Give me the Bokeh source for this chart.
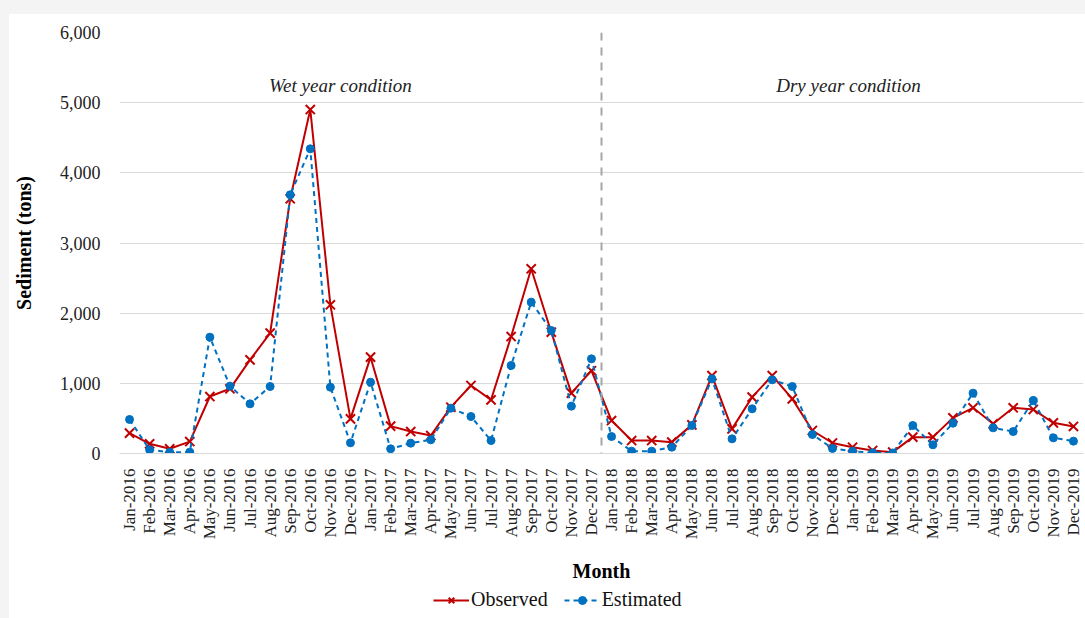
import math
from bokeh.plotting import figure
from bokeh.layouts import column
from bokeh.models import ColumnDataSource, FactorRange, Range1d, NumeralTickFormatter, SingleIntervalTicker, Span, Label, Legend, LegendItem
from bokeh.embed import file_html
from bokeh.resources import INLINE

month_names = ["Jan", "Feb", "Mar", "Apr", "May", "Jun", "Jul", "Aug", "Sep", "Oct", "Nov", "Dec"]
years = ["2016", "2017", "2018", "2019"]
months = [f"{m}-{y}" for y in years for m in month_names]

observed = [290, 138, 67, 170, 812, 922, 1335, 1715, 3630, 4902, 2119, 494,
            1373, 390, 313, 256, 660, 969, 765, 1667, 2632, 1729, 860, 1180,
            470, 185, 185, 162, 408, 1111, 351, 803, 1111, 779, 328, 150,
            90, 43, 19, 233, 233, 508, 651, 423, 651, 627, 437, 385]
estimated = [485, 52, 19, 19, 1658, 960, 708, 955, 3687, 4342, 945, 152,
             1016, 67, 147, 195, 646, 527, 185, 1254, 2157, 1753, 675, 1349,
             242, 33, 33, 90, 399, 1064, 209, 637, 1050, 955, 271, 72,
             33, 10, 8, 399, 124, 432, 860, 366, 313, 755, 223, 176]

series_names = ["Observed", "Estimated"]
wet_label = "Wet year condition"
dry_label = "Dry year condition"

src = ColumnDataSource(dict(month=months, idx=list(range(len(months))), obs=observed, est=estimated))

FONT = "Liberation Serif"
RED = "#C00000"
BLUE = "#0070C0"

p = figure(width=1076, height=575, x_range=FactorRange(factors=months, range_padding=0),
           y_range=Range1d(0, 6000), output_backend="svg", toolbar_location=None,
           min_border_left=101, min_border_top=18, min_border_right=2, min_border_bottom=136)
p.outline_line_color = None
p.background_fill_color = "white"
p.border_fill_color = "white"

p.line("month", "obs", source=src, color=RED, line_width=2)
p.scatter("month", "obs", source=src, marker="x", size=13, line_color=RED, line_width=2)
p.line("month", "est", source=src, color=BLUE, line_width=2, line_dash="5 4")
p.scatter("month", "est", source=src, marker="circle", size=8, fill_color=BLUE, line_color=BLUE)

# divider between 2017 and 2018 (synthetic categorical coordinate between factors)
divider = months.index("Jan-2018")
p.add_layout(Span(location=divider, dimension="height", line_color="#a6a6a6",
                  line_width=2, line_dash="8 7"))

for txt, xpos in [(wet_label, 11.0), (dry_label, 36.3)]:
    p.add_layout(Label(x=xpos, y=5240, text=txt, text_font=FONT, text_font_style="italic",
                       text_font_size="19px", text_align="center", text_baseline="middle",
                       text_color="#222222"))

p.yaxis.ticker = SingleIntervalTicker(interval=1000)
p.yaxis.formatter = NumeralTickFormatter(format="0,0")
p.ygrid.grid_line_color = "#d9d9d9"
p.xgrid.grid_line_color = None

for ax in (p.xaxis[0], p.yaxis[0]):
    ax.major_tick_line_color = None
    ax.minor_tick_line_color = None
    ax.major_label_text_font = FONT
    ax.major_label_text_font_size = "17px"
    ax.major_label_text_color = "#222222"
    ax.axis_label_text_font = FONT
    ax.axis_label_text_font_size = "20px"
    ax.axis_label_text_font_style = "bold"
    ax.axis_label_text_color = "#000000"

p.yaxis.axis_line_color = None
p.yaxis.axis_label = "Sediment (tons)"
p.yaxis.major_label_standoff = 13
p.yaxis.axis_label_standoff = 22
p.yaxis.major_label_text_font_size = "18px"

p.xaxis.axis_line_color = "#d9d9d9"
p.xaxis.axis_label = "Month"
p.xaxis.major_label_orientation = math.pi / 2
p.xaxis.major_label_standoff = 9
p.xaxis.axis_label_standoff = 18

# legend strip below the chart (separate figure so that it is not clipped);
# the series are drawn there out of view, only their legend entries show
lf = figure(width=1076, height=29, x_range=Range1d(0, 47), y_range=Range1d(-20, -10),
            x_axis_type=None, y_axis_type=None, output_backend="svg", toolbar_location=None,
            min_border=0)
lf.outline_line_color = None
lf.grid.visible = False
lf.border_fill_color = "white"
lf.background_fill_color = "white"
l1 = lf.line("idx", "obs", source=src, color=RED, line_width=2)
l2 = lf.scatter("idx", "obs", source=src, marker="x", size=12, line_color=RED, line_width=2)
l3 = lf.line("idx", "est", source=src, color=BLUE, line_width=2, line_dash="5 4")
l4 = lf.scatter("idx", "est", source=src, marker="circle", size=8, fill_color=BLUE, line_color=BLUE)

legend = Legend(items=[LegendItem(label=series_names[0], renderers=[l1, l2]),
                       LegendItem(label=series_names[1], renderers=[l3, l4])],
                orientation="horizontal", location=(314, 7),
                label_text_font=FONT, label_text_font_size="20px", label_text_color="#111111",
                glyph_width=36, glyph_height=20, spacing=16, padding=0, margin=0,
                border_line_color=None, background_fill_alpha=0, label_standoff=2)
lf.add_layout(legend)

layout = column(p, lf, spacing=0)

html = file_html(layout, INLINE)
css = ("<style>body{background:linear-gradient(#f4f4f4,#f4f4f4) top left/100% 14px no-repeat,"
       "linear-gradient(#f4f4f4,#f4f4f4) top left/9px 100% no-repeat,#ffffff;"
       "padding:14px 0 0 9px !important;}</style>")
html = html.replace("<head>", "<head>" + css, 1)
open("out.html", "w").write(html)
